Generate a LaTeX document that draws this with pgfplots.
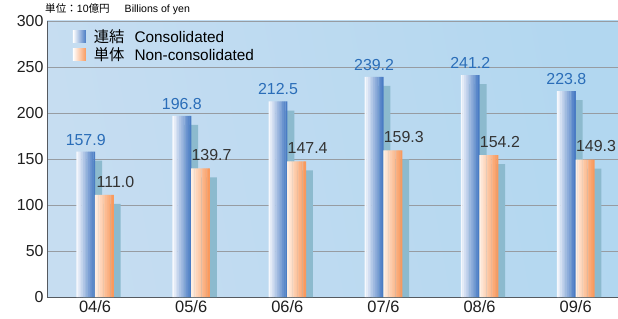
\documentclass[border=0pt]{standalone}
\usepackage{fontspec}
\setmainfont{Liberation Sans}
\newfontfamily\cjk{Noto Sans CJK JP}
\usepackage{pgfplots}
\pgfplotsset{compat=1.18}
\definecolor{bgA}{HTML}{C6DDF1}
\definecolor{bgM}{HTML}{DDECF8}
\definecolor{bgB}{HTML}{B2D7F0}
\definecolor{blueR}{HTML}{4A7CC4}
\definecolor{blueL}{HTML}{F6F8FD}
\definecolor{orR}{HTML}{F99A5E}
\definecolor{orL}{HTML}{FFEFE2}
\definecolor{shadowc}{HTML}{8CBACE}
\definecolor{valblue}{HTML}{2A6DB8}
\definecolor{gridc}{HTML}{979CA2}
\definecolor{axc}{HTML}{555A60}
\pgfplotstableread{
x cons noncons
0 157.9 111.0
1 196.8 139.7
2 212.5 147.4
3 239.2 159.3
4 241.2 154.2
5 223.8 149.3
}\datatable
\pgfplotstableread{
x cons noncons
0 148.1 101.2
1 187.0 129.9
2 202.7 137.6
3 229.4 149.5
4 231.4 144.4
5 214.0 139.5
}\shadowtable
\begin{document}
\begin{tikzpicture}
\begin{axis}[name=ax, scale only axis, width=571bp, height=276bp,
  xmin=-0.5, xmax=5.44, ymin=0, ymax=300,
  xtick={0,...,5}, xticklabels={04/6,05/6,06/6,07/6,08/6,09/6},
  ytick={0,50,...,300},
  /pgf/number format/assume math mode=true,
  yticklabel style={font=\fontsize{16}{18}\selectfont, text=black!88},
  xticklabel style={font=\fontsize{16.5}{18}\selectfont, text=black!88},
  major tick length=0pt,
  ymajorgrids, grid style={gridc, line width=0.9pt},
  axis lines*=left, axis line style={axc, line width=0.9pt},
  axis background/.style={left color=bgA, middle color=bgM, right color=bgB, shading angle=100},
  ybar,
  legend style={draw=none, fill=none, at={(0.045,0.978)}, anchor=north west,
    font=\fontsize{15.4}{17}\selectfont, row sep=0bp, inner sep=0pt},
  legend cell align=left,
  clip=false,
]
\addplot[forget plot, draw=none, fill=shadowc, bar width=18.7bp, bar shift=-2.4bp] table[x=x,y=cons]{\shadowtable};
\addplot[forget plot, draw=none, fill=shadowc, bar width=18.7bp, bar shift=16.3bp] table[x=x,y=noncons]{\shadowtable};
\pgfplotsinvokeforeach{0,...,10}{
\addplot[forget plot, draw=none, fill=blueR!#10!blueL, bar width=1.9bp, bar shift={-17.85bp+#1*1.7bp}] table[x=x,y=cons]{\datatable};
}
\pgfplotsinvokeforeach{0,...,10}{
\addplot[forget plot, draw=none, fill=orR!#10!orL, bar width=1.9bp, bar shift={0.85bp+#1*1.7bp}] table[x=x,y=noncons]{\datatable};
}
\addplot[draw=none, fill=none, bar width=18.7bp, bar shift=-9.35bp,
  nodes near coords, nodes near coords style={font=\fontsize{16}{18}\selectfont, text=valblue, yshift=3bp, /pgf/number format/.cd, fixed, fixed zerofill, precision=1, assume math mode=true},
  legend image code/.code={\shade[left color=white, right color=blueR] (0bp,-6bp) rectangle (13bp,6bp);}
  ] table[x=x,y=cons]{\datatable};
\addlegendentry{\hspace{6bp}{\cjk 連結}\hspace{10bp}Consolidated}
\addplot[draw=none, fill=none, bar width=18.7bp, bar shift=9.35bp,
  nodes near coords, nodes near coords style={font=\fontsize{16}{18}\selectfont, text=black!80, xshift=11bp, yshift=4bp, /pgf/number format/.cd, fixed, fixed zerofill, precision=1, assume math mode=true},
  legend image code/.code={\shade[left color=white, right color=orR] (0bp,-6bp) rectangle (13bp,6bp);}
  ] table[x=x,y=noncons]{\datatable};
\addlegendentry{\hspace{6bp}{\cjk 単体}\hspace{10bp}Non-consolidated}
\end{axis}
\node[anchor=base west, inner sep=0pt, font=\fontsize{10.6}{12}\selectfont] at ([xshift=-2bp,yshift=8bp]ax.north west) {{\cjk 単位：}10{\cjk 億円}\hspace{15bp}Billions of yen};
\pgfresetboundingbox
\path[use as bounding box] ([xshift=-47bp,yshift=-22bp]ax.south west) rectangle ([yshift=21bp]ax.north east);
\end{tikzpicture}
\end{document}
